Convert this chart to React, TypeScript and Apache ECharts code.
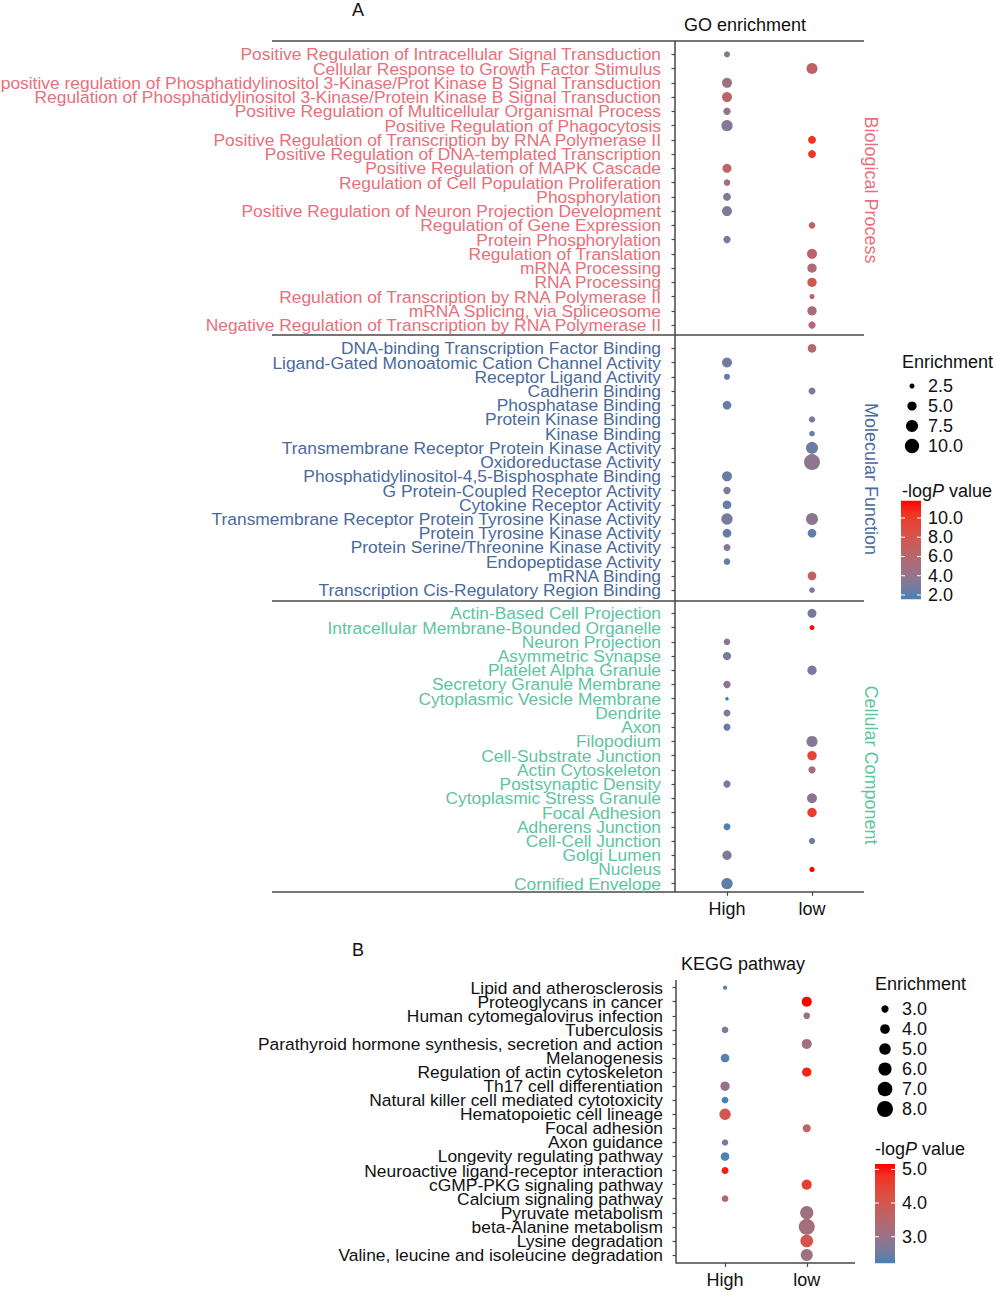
import React, { useEffect, useRef } from 'react';
import * as echarts from 'echarts';

// ---------------- data ----------------
const xCategories = ['High', 'low'];

const bpTerms = [
  'Positive Regulation of Intracellular Signal Transduction',
  'Cellular Response to Growth Factor Stimulus',
  'positive regulation of Phosphatidylinositol 3-Kinase/Prot Kinase B Signal Transduction',
  'Regulation of Phosphatidylinositol 3-Kinase/Protein Kinase B Signal Transduction',
  'Positive Regulation of Multicellular Organismal Process',
  'Positive Regulation of Phagocytosis',
  'Positive Regulation of Transcription by RNA Polymerase II',
  'Positive Regulation of DNA-templated Transcription',
  'Positive Regulation of MAPK Cascade',
  'Regulation of Cell Population Proliferation',
  'Phosphorylation',
  'Positive Regulation of Neuron Projection Development',
  'Regulation of Gene Expression',
  'Protein Phosphorylation',
  'Regulation of Translation',
  'mRNA Processing',
  'RNA Processing',
  'Regulation of Transcription by RNA Polymerase II',
  'mRNA Splicing, via Spliceosome',
  'Negative Regulation of Transcription by RNA Polymerase II',
];
// [enrichment, -logP] per term, null = not enriched
const bpHigh = [[3.0, 3.5], null, [5.6, 4.8], [5.6, 6.3], [3.7, 4.2], [6.8, 3.3], null, null, [4.8, 6.5], [3.3, 5.0], [4.1, 3.3], [5.6, 3.3], null, [3.7, 3.0], null, null, null, null, null, null];
const bpLow = [null, [6.5, 6.5], null, null, null, null, [4.1, 10.5], [4.1, 10.3], null, null, null, null, [3.3, 6.5], null, [5.6, 6.5], [5.1, 5.5], [5.1, 7.5], [2.6, 6.3], [5.1, 5.2], [3.7, 5.7]];

const mfTerms = [
  'DNA-binding Transcription Factor Binding',
  'Ligand-Gated Monoatomic Cation Channel Activity',
  'Receptor Ligand Activity',
  'Cadherin Binding',
  'Phosphatase Binding',
  'Protein Kinase Binding',
  'Kinase Binding',
  'Transmembrane Receptor Protein Kinase Activity',
  'Oxidoreductase Activity',
  'Phosphatidylinositol-4,5-Bisphosphate Binding',
  'G Protein-Coupled Receptor Activity',
  'Cytokine Receptor Activity',
  'Transmembrane Receptor Protein Tyrosine Kinase Activity',
  'Protein Tyrosine Kinase Activity',
  'Protein Serine/Threonine Kinase Activity',
  'Endopeptidase Activity',
  'mRNA Binding',
  'Transcription Cis-Regulatory Region Binding',
];
const mfHigh = [null, [5.6, 2.7], [3.0, 2.3], null, [4.6, 2.4], null, null, null, null, [5.6, 2.4], [3.7, 3.1], [4.6, 2.4], [6.8, 2.9], [4.6, 2.4], [3.5, 3.5], [3.3, 2.5], null, null];
const mfLow = [[4.6, 6.0], null, null, [3.5, 3.3], null, [3.1, 3.4], [2.8, 2.5], [7.5, 2.6], [12.1, 3.8], null, null, null, [7.5, 3.7], [4.6, 2.4], null, null, [4.6, 6.3], [2.8, 2.7]];

const ccTerms = [
  'Actin-Based Cell Projection',
  'Intracellular Membrane-Bounded Organelle',
  'Neuron Projection',
  'Asymmetric Synapse',
  'Platelet Alpha Granule',
  'Secretory Granule Membrane',
  'Cytoplasmic Vesicle Membrane',
  'Dendrite',
  'Axon',
  'Filopodium',
  'Cell-Substrate Junction',
  'Actin Cytoskeleton',
  'Postsynaptic Density',
  'Cytoplasmic Stress Granule',
  'Focal Adhesion',
  'Adherens Junction',
  'Cell-Cell Junction',
  'Golgi Lumen',
  'Nucleus',
  'Cornified Envelope',
];
const ccHigh = [null, null, [3.3, 3.7], [4.3, 2.8], null, [3.7, 3.7], [2.0, 1.55], [3.5, 3.1], [3.5, 2.4], null, null, null, [3.7, 3.0], null, null, [3.5, 1.8], null, [5.1, 3.1], null, [6.8, 2.2]];
const ccLow = [[4.8, 2.8], [2.5, 11.5], null, null, [5.1, 2.8], null, null, null, null, [6.5, 3.4], [5.1, 9.5], [3.7, 4.8], null, [5.6, 3.7], [5.1, 9.8], null, [3.1, 2.6], null, [2.6, 11.8], null];

const keggTerms = [
  'Lipid and atherosclerosis',
  'Proteoglycans in cancer',
  'Human cytomegalovirus infection',
  'Tuberculosis',
  'Parathyroid hormone synthesis, secretion and action',
  'Melanogenesis',
  'Regulation of actin cytoskeleton',
  'Th17 cell differentiation',
  'Natural killer cell mediated cytotoxicity',
  'Hematopoietic cell lineage',
  'Focal adhesion',
  'Axon guidance',
  'Longevity regulating pathway',
  'Neuroactive ligand-receptor interaction',
  'cGMP-PKG signaling pathway',
  'Calcium signaling pathway',
  'Pyruvate metabolism',
  'beta-Alanine metabolism',
  'Lysine degradation',
  'Valine, leucine and isoleucine degradation',
];
const keggHigh = [[2.1, 2.45], null, null, [2.8, 2.65], null, [3.55, 2.33], null, [3.85, 2.95], [2.8, 2.21], [4.9, 4.0], null, [2.7, 2.6], [3.55, 2.3], [2.9, 4.95], null, [2.8, 3.55], null, null, null, null];
const keggLow = [null, [4.2, 5.16], [2.8, 3.1], null, [4.2, 3.1], null, [3.85, 4.9], null, null, null, [3.3, 3.7], null, null, null, [4.2, 4.6], null, [6.1, 3.1], [8.1, 3.2], [5.7, 4.1], [5.3, 3.1]];

// legend tick labels
const goSizeTicks = [2.5, 5.0, 7.5, 10.0];
const goColorTicks = [10.0, 8.0, 6.0, 4.0, 2.0];
const keggSizeTicks = [3.0, 4.0, 5.0, 6.0, 7.0, 8.0];
const keggColorTicks = [5.0, 4.0, 3.0];

// ---------------- styling ----------------
const FONT = '"Liberation Sans", Arial, Helvetica, sans-serif';
const COLOR_STOPS = ['#4682B4', '#777B9F', '#95748B', '#AD6B76', '#C16262', '#D3564E', '#E24739', '#F13322', '#FF0000'];
const BP_COLOR = '#E7707A';
const MF_COLOR = '#4A6A9C';
const CC_COLOR = '#5EC4A1';
const LINE_COLOR = '#474747';
const LABEL_SIZE = 17.4;

const goSize = (v: number) => Math.sqrt(Math.max(24 * v - 35, 4));
const keggSize = (v: number) => Math.sqrt(Math.max(40 * v - 67, 4));

function toPoints(high: any[], low: any[]) {
  const pts: number[][] = [];
  high.forEach((d, i) => { if (d) pts.push([0, i, d[0], d[1]]); });
  low.forEach((d, i) => { if (d) pts.push([1, i, d[0], d[1]]); });
  return pts;
}

function buildOption() {
  const bpPts = toPoints(bpHigh, bpLow);
  const mfPts = toPoints(mfHigh, mfLow);
  const ccPts = toPoints(ccHigh, ccLow);
  const kgPts = toPoints(keggHigh, keggLow);
  const goLog = [...bpPts, ...mfPts, ...ccPts].map((p) => p[3]);
  const goMin = Math.min(...goLog);
  const goMax = Math.max(...goLog);
  const kgLog = kgPts.map((p) => p[3]);
  const kgMin = Math.min(...kgLog);
  const kgMax = Math.max(...kgLog);

  const grids = [
    { left: 684.5, width: 170, top: 47.2, height: 285 },
    { left: 684.5, width: 170, top: 341.2, height: 256 },
    { left: 684.5, width: 170, top: 606.2, height: 284.6 },
    { left: 684.2, width: 163.4, top: 980.6, height: 281.4 },
  ];
  const yData = [bpTerms, mfTerms, ccTerms, keggTerms];
  const yColors = [BP_COLOR, MF_COLOR, CC_COLOR, '#111'];
  const axisX = [675, 675, 675, 676];

  const xAxis = grids.map((g, i) => ({
    type: 'category',
    gridIndex: i,
    data: xCategories,
    boundaryGap: true,
    offset: 1,
    axisLine: { show: false },
    axisTick: { show: i >= 2, alignWithLabel: true, length: 4, lineStyle: { color: LINE_COLOR, width: 1.2 } },
    axisLabel: { show: i >= 2, fontSize: 18, color: '#111', margin: 8, fontFamily: FONT },
    splitLine: { show: false },
  }));
  const yAxis = grids.map((g, i) => ({
    type: 'category',
    gridIndex: i,
    data: yData[i],
    inverse: true,
    boundaryGap: true,
    offset: g.left - axisX[i],
    axisLine: { show: false },
    axisTick: { show: true, alignWithLabel: true, interval: 0, length: 3.5, lineStyle: { color: LINE_COLOR, width: 1.2 } },
    axisLabel: { interval: 0, fontSize: LABEL_SIZE, color: yColors[i], margin: i === 3 ? 13 : 14, fontFamily: FONT },
    splitLine: { show: false },
  }));

  const allPts = [bpPts, mfPts, ccPts, kgPts];
  const series = allPts.map((pts, i) => ({
    type: 'scatter',
    xAxisIndex: i,
    yAxisIndex: i,
    data: pts,
    symbol: 'circle',
    symbolSize: (val: number[]) => (i === 3 ? keggSize(val[2]) : goSize(val[2])),
    itemStyle: { opacity: 1 },
    silent: true,
    emphasis: { disabled: true },
  }));

  const gradStops = COLOR_STOPS.map((c, k) => ({ offset: k / (COLOR_STOPS.length - 1), color: c }));

  const txt = (text: string, x: number, y: number, opts: any = {}) => ({
    type: 'text',
    x,
    y,
    silent: true,
    rotation: opts.rotation || 0,
    style: {
      text,
      fontSize: opts.fontSize || 18,
      fontFamily: FONT,
      fill: opts.fill || '#111',
      align: opts.align || 'left',
      textAlign: opts.align || 'left',
      verticalAlign: 'middle',
      textVerticalAlign: 'middle',
    },
  });
  const ln = (x1: number, y1: number, x2: number, y2: number, color = LINE_COLOR, w = 1.5) => ({
    type: 'line',
    silent: true,
    shape: { x1, y1, x2, y2 },
    style: { stroke: color, lineWidth: w },
  });
  const logPTitle = (x: number, y: number) => ({
    type: 'text',
    x,
    y,
    silent: true,
    style: {
      text: '{a|-log}{b|P}{a| value}',
      rich: {
        a: { fontSize: 18, fontFamily: FONT, fill: '#111', color: '#111' },
        b: { fontSize: 18, fontFamily: FONT, fontStyle: 'italic', fill: '#111', color: '#111' },
      },
      fill: '#111',
      align: 'left',
      textAlign: 'left',
      verticalAlign: 'middle',
      textVerticalAlign: 'middle',
    },
  });

  const graphic: any[] = [];
  // panel labels and titles
  graphic.push(txt('A', 358, 10, { align: 'center' }));
  graphic.push(txt('GO enrichment', 745, 25, { align: 'center' }));
  graphic.push(txt('B', 358, 950, { align: 'center' }));
  graphic.push(txt('KEGG pathway', 743, 964, { align: 'center' }));
  // facet labels
  graphic.push(txt('Biological Process', 870.5, 190, { align: 'center', fill: BP_COLOR, rotation: -Math.PI / 2 }));
  graphic.push(txt('Molecular Function', 870.5, 479, { align: 'center', fill: MF_COLOR, rotation: -Math.PI / 2 }));
  graphic.push(txt('Cellular Component', 870.5, 765, { align: 'center', fill: CC_COLOR, rotation: -Math.PI / 2 }));
  // frame lines
  graphic.push(ln(675, 41, 675, 892));
  [41, 335, 601, 892].forEach((y) => graphic.push(ln(272, y, 864, y)));
  graphic.push(ln(676, 980, 676, 1263.5));
  graphic.push(ln(676, 1263, 855, 1263));

  // GO size legend
  graphic.push(txt('Enrichment', 902, 362));
  goSizeTicks.forEach((v, k) => {
    const cy = 386 + k * 20;
    graphic.push({ type: 'circle', silent: true, shape: { cx: 912, cy, r: goSize(v) / 2 }, style: { fill: '#000' } });
    graphic.push(txt(v.toFixed(1), 928, cy));
  });
  // GO color legend
  graphic.push(logPTitle(902, 491));
  const goBar = { x: 901, y: 500.7, w: 20, h: 98.6 };
  graphic.push({ type: 'rect', silent: true, shape: { x: goBar.x, y: goBar.y, width: goBar.w, height: goBar.h }, style: { fill: new echarts.graphic.LinearGradient(0, 1, 0, 0, gradStops) } });
  goColorTicks.forEach((v) => {
    const y = goBar.y + ((goMax - v) / (goMax - goMin)) * goBar.h;
    graphic.push(ln(goBar.x, y, goBar.x + 4, y, '#fff', 1));
    graphic.push(ln(goBar.x + goBar.w - 4, y, goBar.x + goBar.w, y, '#fff', 1));
    graphic.push(txt(v.toFixed(1), 928, y));
  });

  // KEGG size legend
  graphic.push(txt('Enrichment', 875, 984));
  keggSizeTicks.forEach((v, k) => {
    const cy = 1009 + k * 20;
    graphic.push({ type: 'circle', silent: true, shape: { cx: 885, cy, r: keggSize(v) / 2 }, style: { fill: '#000' } });
    graphic.push(txt(v.toFixed(1), 902, cy));
  });
  // KEGG color legend
  graphic.push(logPTitle(875, 1149));
  const kgBar = { x: 875, y: 1164, w: 20, h: 99.3 };
  graphic.push({ type: 'rect', silent: true, shape: { x: kgBar.x, y: kgBar.y, width: kgBar.w, height: kgBar.h }, style: { fill: new echarts.graphic.LinearGradient(0, 1, 0, 0, gradStops) } });
  keggColorTicks.forEach((v) => {
    const y = kgBar.y + ((kgMax - v) / (kgMax - kgMin)) * kgBar.h;
    graphic.push(ln(kgBar.x, y, kgBar.x + 4, y, '#fff', 1));
    graphic.push(ln(kgBar.x + kgBar.w - 4, y, kgBar.x + kgBar.w, y, '#fff', 1));
    graphic.push(txt(v.toFixed(1), 902, y));
  });

  return {
    animation: false,
    backgroundColor: '#ffffff',
    textStyle: { fontFamily: FONT },
    grid: grids.map((g) => ({ ...g, containLabel: false, outerBoundsMode: 'none' })),
    xAxis,
    yAxis,
    visualMap: [
      { type: 'continuous', show: false, seriesIndex: [0, 1, 2], dimension: 3, min: goMin, max: goMax, inRange: { color: COLOR_STOPS } },
      { type: 'continuous', show: false, seriesIndex: [3], dimension: 3, min: kgMin, max: kgMax, inRange: { color: COLOR_STOPS } },
    ],
    series,
    graphic,
  };
}

export default function App() {
  const ref = useRef<HTMLDivElement>(null);
  useEffect(() => {
    if (!ref.current) return;
    const chart = echarts.init(ref.current, undefined, { renderer: 'svg' });
    chart.setOption(buildOption() as any);
    return () => chart.dispose();
  }, []);
  return <div ref={ref} style={{ position: 'absolute', left: 0, top: 0, width: 996, height: 1292, background: '#fff' }} />;
}
